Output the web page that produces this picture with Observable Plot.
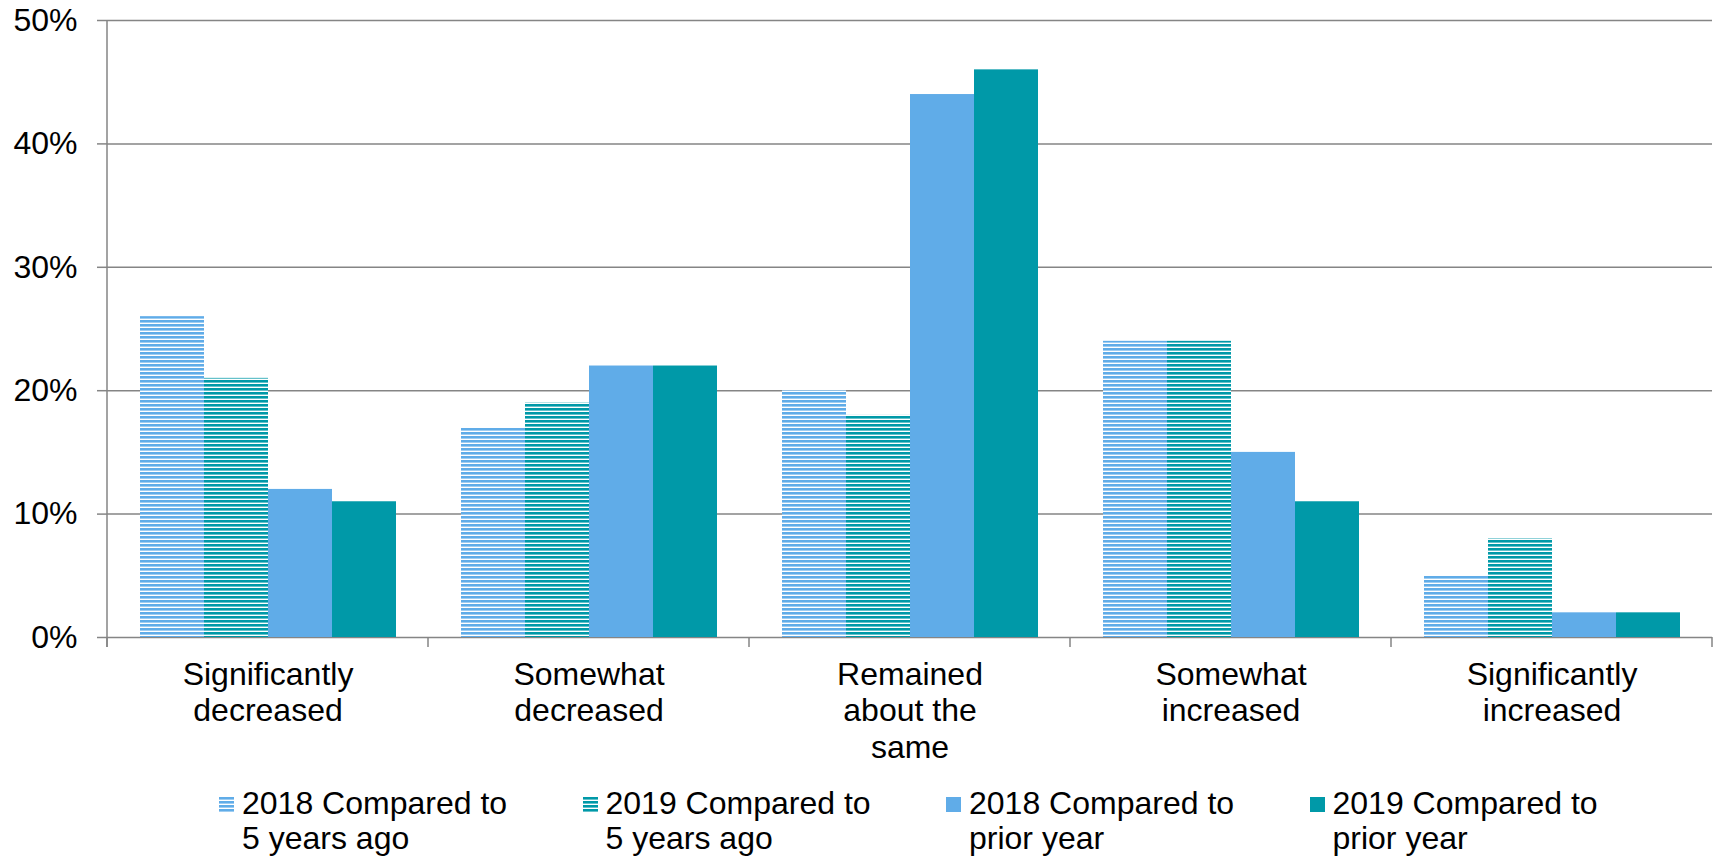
<!DOCTYPE html>
<html>
<head>
<meta charset="utf-8">
<script src="https://cdn.jsdelivr.net/npm/d3@7"></script>
<script src="https://cdn.jsdelivr.net/npm/@observablehq/plot@0.6"></script>
<style>
  body { margin: 0; background: #fff; font-family: "Liberation Sans", Arial, sans-serif; }
  #chart svg { display: block; }
  #legend { position: relative; height: 74px; margin-top: 14px; }
  .item { position: absolute; top: 0; display: flex; align-items: flex-start; font-size: 32px; line-height: 35px; color: #000; white-space: pre; }
  .swatch { width: 15px; height: 15px; margin-top: 11px; margin-right: 8px; flex: none; display: block; }
</style>
</head>
<body>
<svg width="0" height="0" style="position:absolute">
  <defs>
    <pattern id="stripe-blue" patternUnits="userSpaceOnUse" width="8" height="4">
      <rect width="8" height="4" fill="#ffffff"></rect>
      <rect width="8" height="2.6" fill="#60ACE8"></rect>
    </pattern>
    <pattern id="stripe-teal" patternUnits="userSpaceOnUse" width="8" height="4">
      <rect width="8" height="4" fill="#ffffff"></rect>
      <rect width="8" height="2.6" fill="#0099A8"></rect>
    </pattern>
  </defs>
</svg>
<div id="chart"></div>
<div id="legend"></div>
<script>
// ---- data ----
const categories = [
  "Significantly\ndecreased",
  "Somewhat\ndecreased",
  "Remained\nabout the\nsame",
  "Somewhat\nincreased",
  "Significantly\nincreased"
];
const series = [
  "2018 Compared to 5 years ago",
  "2019 Compared to 5 years ago",
  "2018 Compared to prior year",
  "2019 Compared to prior year"
];
const legendLabels = [
  "2018 Compared to\n5 years ago",
  "2019 Compared to\n5 years ago",
  "2018 Compared to\nprior year",
  "2019 Compared to\nprior year"
];
const v2018vs5y = [26, 17, 20, 24, 5];
const v2019vs5y = [21, 19, 18, 24, 8];
const v2018vsPrior = [12, 22, 44, 15, 2];
const v2019vsPrior = [11, 22, 46, 11, 2];
const yTicks = [0, 10, 20, 30, 40, 50];
const fills = ["url(#stripe-blue)", "url(#stripe-teal)", "#60ACE8", "#0099A8"];

const seriesValues = [v2018vs5y, v2019vs5y, v2018vsPrior, v2019vsPrior];
const data = categories.flatMap((c, i) =>
  series.map((s, j) => ({category: c, series: s, value: seriesValues[j][i]}))
);

const gray = "#858585";
const font = "'Liberation Sans', Arial, sans-serif";

const chart = Plot.plot({
  width: 1715,
  height: 772,
  marginTop: 20,
  marginBottom: 135,
  marginLeft: 105,
  marginRight: 1,
  style: {fontFamily: font, background: "white", color: "#000"},
  fx: {domain: categories, padding: 0, label: null},
  x: {domain: series, paddingInner: 0, paddingOuter: 0.475, axis: null},
  y: {domain: [0, 50], label: null},
  color: {domain: series, range: fills},
  marks: [
    Plot.gridY(yTicks, {stroke: gray, strokeOpacity: 1, strokeWidth: 1.5}),
    Plot.barY(data, {fx: "category", x: "series", y: "value", fill: "series"}),
    Plot.axisY(yTicks, {
      tickSize: 10, tickPadding: 20, tickFormat: d => d + "%",
      fontSize: 32, stroke: gray, strokeWidth: 1.5, fill: "#000", label: null
    }),
    Plot.axisFx({
      anchor: "bottom", tickSize: 0, tickPadding: 21, fontSize: 32,
      lineHeight: 1.145, fill: "#000", label: null
    })
  ]
});
document.getElementById("chart").append(chart);

// axis line and category boundary ticks, positioned with Plot's own scales
const fx = chart.scale("fx");
const y = chart.scale("y");
const svg = d3.select(chart.tagName.toLowerCase() === "svg" ? chart : chart.querySelector("svg"));
const y0 = y.apply(0), yTop = y.apply(50);
const xLeft = fx.apply(categories[0]);
const g = svg.append("g").attr("stroke", gray).attr("stroke-width", 1.5);
g.append("line").attr("x1", xLeft).attr("x2", xLeft).attr("y1", yTop).attr("y2", y0 + 10);
const edges = categories.map(c => fx.apply(c)).concat([fx.apply(categories[categories.length - 1]) + fx.bandwidth]);
edges.forEach(x => g.append("line").attr("x1", x).attr("x2", x).attr("y1", y0).attr("y2", y0 + 10));

// legend
const legend = d3.select("#legend");
legendLabels.forEach((lab, j) => {
  const item = legend.append("div").attr("class", "item").style("left", (219 + 363.5 * j) + "px");
  item.append("svg").attr("class", "swatch").attr("width", 15).attr("height", 15)
    .append("rect").attr("width", 15).attr("height", 15).attr("fill", fills[j]);
  item.append("span").text(lab);
});
</script>
</body>
</html>
